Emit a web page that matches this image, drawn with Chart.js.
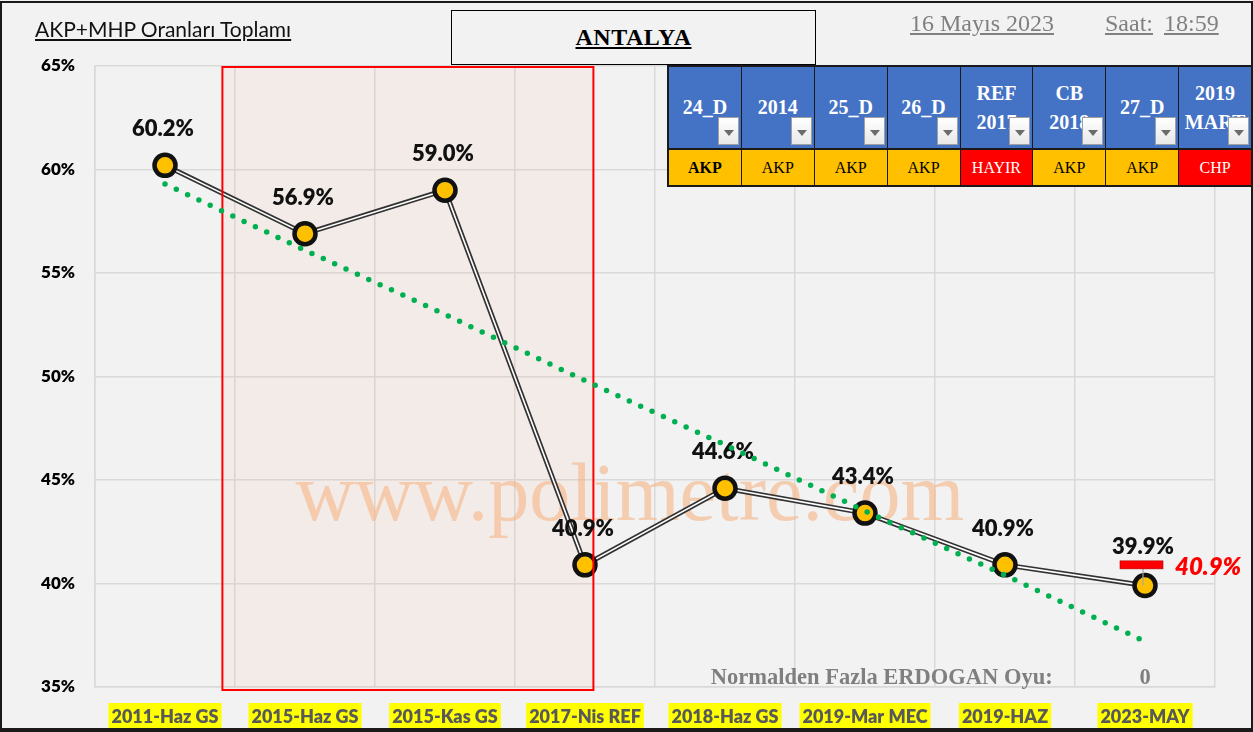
<!DOCTYPE html>
<html lang="tr">
<head>
<meta charset="utf-8">
<title>ANTALYA - AKP+MHP Oranları Toplamı</title>
<script src="https://cdn.jsdelivr.net/npm/chart.js@4.4.1/dist/chart.umd.min.js"></script>
<style>
  html, body { margin: 0; padding: 0; background: #f2f2f2; }
  #page { position: relative; width: 1253px; height: 732px; overflow: hidden; background: #f2f2f2; font-family: Lato, "Noto Sans", sans-serif; }
  #chartWrap { position: absolute; left: 0; top: 0; width: 1253px; height: 732px; }
  #frame { position: absolute; left: 0; top: 1px; width: 1253px; height: 731px; box-sizing: border-box; border: 2px solid #1a1a1a; border-bottom-width: 4px; pointer-events: none; }
  #subtitle { position: absolute; left: 35px; top: 16px; font-size: 21px; color: #111; text-decoration: underline; }
  #cityBox { position: absolute; left: 451px; top: 10px; width: 365px; height: 55px; box-sizing: border-box; border: 1.5px solid #000; background: #f2f2f2;
    font: bold 24px "Liberation Serif", serif; text-align: center; line-height: 52px; text-decoration: underline; letter-spacing: 0.5px; }
  .stamp { position: absolute; top: 10px; font: 24px "Liberation Serif", serif; color: #808080; text-decoration: underline; }
  #partyTable { position: absolute; left: 667px; top: 65px; width: 586px; height: 122px; box-sizing: border-box; border: 2px solid #1a1a1a; background: #1a1a1a;
    display: grid; grid-template-columns: repeat(8, 1fr); grid-template-rows: 81px 35px; gap: 2px 1px; }
  .hd { position: relative; background: #4472c4; color: #fff; font: bold 20px "Liberation Serif", serif; text-align: center; overflow: hidden;
    display: flex; align-items: center; justify-content: center; line-height: 29px; white-space: pre; }
  .hd .dd { position: absolute; right: 2px; bottom: 3px; width: 21px; height: 28px; box-sizing: border-box; border: 1px solid #a0a0a0;
    background: linear-gradient(#ffffff, #e8e8e8); }
  .hd .dd::after { content: ""; position: absolute; left: 5px; top: 12px; border-left: 5px solid transparent; border-right: 5px solid transparent; border-top: 6px solid #6b6b6b; }
  .rs { font: 16px "Liberation Serif", serif; display: flex; align-items: center; justify-content: center; color: #000; }
</style>
</head>
<body>
<div id="page">
  <div id="chartWrap"><canvas id="akpMhpChart" width="1253" height="732"></canvas></div>
  <div id="subtitle">AKP+MHP Oranları Toplamı</div>
  <div id="cityBox">ANTALYA</div>
  <div class="stamp" style="left:910px;">16 Mayıs 2023</div>
  <div class="stamp" style="left:1105px;">Saat:</div>
  <div class="stamp" style="left:1164px;">18:59</div>
  <div id="partyTable"></div>
  <div id="frame"></div>
</div>
<script>
// values
const elections = ["2011-Haz GS", "2015-Haz GS", "2015-Kas GS", "2017-Nis REF", "2018-Haz GS", "2019-Mar MEC", "2019-HAZ", "2023-MAY"];
const akpMhpShare = [60.2, 56.9, 59.0, 40.9, 44.6, 43.4, 40.9, 39.9];
const trendShare = [59.3, 56.1, 53.0, 49.8, 46.7, 43.5, 40.4, 37.2];
const yTicks = [35, 40, 45, 50, 55, 60, 65];
const expectedLast = 40.9;
const extraErdoganVotes = "0";

const tableHeads = ["24_D", "2014", "25_D", "26_D", "REF\n2017", "CB\n2018", "27_D", "2019\nMART"];
const tableWinners = ["AKP", "AKP", "AKP", "AKP", "HAYIR", "AKP", "AKP", "CHP"];

const $ = (id) => document.getElementById(id);

$("partyTable").innerHTML =
  tableHeads.map((h) => `<div class="hd">${h}<span class="dd"></span></div>`).join("") +
  tableWinners
    .map((w, i) => {
      const red = w === "HAYIR" || w === "CHP";
      const style = red ? "background:#ff0000;color:#fff;" : "background:#ffc000;";
      const weight = i === 0 ? "font-weight:bold;" : "";
      return `<div class="rs" style="${style}${weight}">${w}</div>`;
    })
    .join("");

const SANS = "Lato, 'Noto Sans', sans-serif";
const SERIF = "'Liberation Serif', serif";
const boxFrom = 0.41, boxTo = 3.06;

function drawLabels(chart) {
  const { ctx, chartArea, scales: { x, y } } = chart;
  ctx.save();
  // red frame
  const x0 = x.getPixelForValue(boxFrom), x1 = x.getPixelForValue(boxTo);
  ctx.strokeStyle = "#ff0000";
  ctx.lineWidth = 2;
  ctx.strokeRect(x0, chartArea.top + 1, x1 - x0, chartArea.bottom - chartArea.top + 2);

  // expected value marker on the last point
  const last = elections.length - 1;
  const lx = x.getPixelForValue(last);
  const ey = y.getPixelForValue(expectedLast);
  ctx.strokeStyle = "#a6a6a6";
  ctx.lineWidth = 1.2;
  ctx.beginPath();
  ctx.moveTo(lx - 2, ey);
  ctx.lineTo(lx - 2, y.getPixelForValue(akpMhpShare[last]));
  ctx.stroke();
  ctx.fillStyle = "#ff0000";
  ctx.fillRect(lx - 25, ey - 4, 43, 8);
  ctx.strokeStyle = "#b00000";
  ctx.lineWidth = 0.6;
  ctx.strokeRect(lx - 25, ey - 4, 43, 8);
  ctx.font = `italic 800 24px ${SANS}`;
  ctx.fillStyle = "#ff0000";
  ctx.textAlign = "left";
  ctx.textBaseline = "middle";
  ctx.fillText(expectedLast.toFixed(1) + "%", lx + 30, ey + 2);

  // value labels
  ctx.font = `800 22px ${SANS}`;
  ctx.fillStyle = "#111";
  ctx.textAlign = "center";
  akpMhpShare.forEach((v, i) => {
    const px = x.getPixelForValue(i);
    const py = y.getPixelForValue(v) - (i === last ? 39 : 36);
    ctx.fillText(v.toFixed(1) + "%", px - 2, py);
  });
  ctx.restore();
}

const overlay = {
  id: "overlay",
  beforeDatasetsDraw(chart) {
    const { ctx, chartArea, scales: { x } } = chart;
    ctx.save();
    // shaded period box
    const x0 = x.getPixelForValue(boxFrom), x1 = x.getPixelForValue(boxTo);
    ctx.fillStyle = "rgba(245,172,142,0.1)";
    ctx.fillRect(x0, chartArea.top + 1, x1 - x0, chartArea.bottom - chartArea.top + 2);
    // watermark
    ctx.font = `82px ${SERIF}`;
    ctx.fillStyle = "rgba(246,180,136,0.62)";
    ctx.textAlign = "center";
    ctx.textBaseline = "alphabetic";
    ctx.fillText("www.polimetre.com", x.getPixelForValue(3.32), 520);
    // footer note
    ctx.font = `bold 22.5px ${SERIF}`;
    ctx.fillStyle = "#7f7f7f";
    ctx.fillText("Normalden Fazla ERDOGAN Oyu:", x.getPixelForValue(5.12), 684);
    ctx.fillText(extraErdoganVotes, x.getPixelForValue(7), 684);
    ctx.restore();
  },
  // labels sit under the trend dots, as in the reference
  beforeDatasetDraw(chart, args) {
    if (args.index === 0) drawLabels(chart);
  }
};

new Chart($("akpMhpChart"), {
  type: "line",
  data: {
    labels: elections,
    datasets: [
      {
        label: "Trend",
        data: trendShare,
        borderColor: "#00b050",
        borderWidth: 5.5,
        borderDash: [0, 12.5],
        borderCapStyle: "round",
        pointRadius: 0,
        fill: false,
        order: 0
      },
      {
        label: "AKP+MHP outline",
        data: akpMhpShare,
        borderColor: "#333333",
        borderWidth: 5,
        pointRadius: 0,
        tension: 0,
        order: 3
      },
      {
        label: "AKP+MHP inner",
        data: akpMhpShare,
        borderColor: "#ffffff",
        borderWidth: 1.6,
        pointRadius: 0,
        tension: 0,
        order: 2
      },
      {
        label: "AKP+MHP",
        data: akpMhpShare,
        showLine: false,
        pointRadius: 10.5,
        pointBorderWidth: 4.5,
        pointBackgroundColor: "#ffc000",
        pointBorderColor: "#111111",
        order: 1
      }
    ]
  },
  options: {
    responsive: false,
    animation: false,
    events: [],
    layout: { padding: { left: 0, right: 38, top: 66, bottom: 0 } },
    plugins: {
      legend: { display: false },
      tooltip: { enabled: false }
    },
    scales: {
      x: {
        offset: true,
        grid: { offset: true, color: "#d9d9d9", lineWidth: 1.5, drawTicks: false },
        border: { color: "#d9d9d9", width: 1.5 },
        ticks: {
          padding: 19,
          color: "#595959",
          font: { family: SANS, size: 18, weight: "800" },
          maxRotation: 0,
          autoSkip: false,
          showLabelBackdrop: true,
          backdropColor: "#ffff00",
          backdropPadding: { top: 3, bottom: 3, left: 3, right: 3 }
        },
        afterFit: (scale) => { scale.height = 45; }
      },
      y: {
        min: 35,
        max: 65,
        afterBuildTicks: (scale) => { scale.ticks = yTicks.map((v) => ({ value: v })); },
        grid: { color: "#d9d9d9", lineWidth: 1.5, drawTicks: false },
        border: { color: "#d9d9d9", width: 1.5 },
        ticks: {
          padding: 20,
          color: "#000",
          font: { family: SANS, size: 17, weight: "800" },
          callback: (v) => v + "%"
        },
        afterFit: (scale) => { scale.width = 95; }
      }
    }
  },
  plugins: [overlay]
});
</script>
</body>
</html>
